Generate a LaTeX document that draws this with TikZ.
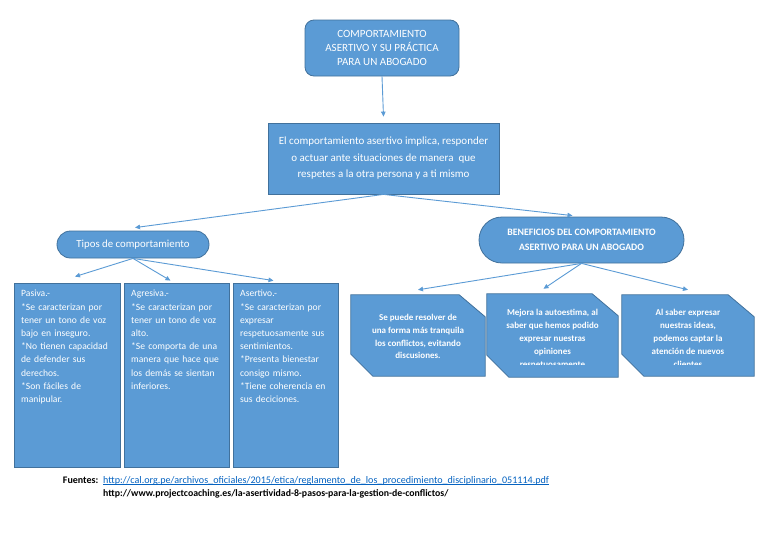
\documentclass[tikz,border=0pt]{standalone}
\usepackage{fontspec}
\setmainfont{Carlito}
\usetikzlibrary{shapes.misc,arrows.meta,calc}
\definecolor{fillb}{HTML}{5B9BD5}
\definecolor{edgeb}{HTML}{41719C}
\definecolor{linkb}{HTML}{0563C1}
\begin{document}
\begin{tikzpicture}[x=1pt,y=-1pt,
  box/.style={draw=edgeb, fill=fillb, line width=0.8pt, text=white, inner sep=0pt},
  boxline/.style={draw=edgeb, fill=fillb, line width=0.8pt},
  conn/.style={draw=fillb, line width=0.9pt, -{Triangle[length=5pt,width=4.5pt]}},
  typetext/.style={text=white, inner sep=0pt, anchor=north west, text width=98pt, align=left, font=\fontsize{9.6}{13.2}\selectfont},
  bentext/.style={text=white, inner sep=0pt, align=center, font=\bfseries\fontsize{9}{12.9}\selectfont}]
\useasboundingbox (0,0) rectangle (768,544);
\fill[white] (0,0) rectangle (768,544);

% top
\node[box, rounded corners=9pt, minimum width=154pt, minimum height=56pt, align=center,
      font=\fontsize{11}{14}\selectfont] (title) at (382,48)
  {COMPORTAMIENTO\\ASERTIVO Y SU PRÁCTICA\\PARA UN ABOGADO};
\node[box, minimum width=231pt, minimum height=71pt, align=center,
      font=\fontsize{11}{16.5}\selectfont] (def) at (383.5,158.5)
  {El comportamiento asertivo implica, responder\\o actuar ante situaciones de manera\ \ que\\respetes a la otra persona y a ti mismo};

\node[box, rounded rectangle, minimum width=152pt, minimum height=27pt,
      font=\fontsize{10.8}{13}\selectfont] (tipos) at (133,244.5) {Tipos de comportamiento};
\node[box, rounded rectangle, minimum width=205pt, minimum height=46pt, align=center,
      font=\bfseries\fontsize{9.8}{14.5}\selectfont] (benef) at (581.5,240)
  {BENEFICIOS DEL COMPORTAMIENTO\\ASERTIVO PARA UN ABOGADO};

% type boxes
\node[box, minimum width=106pt, minimum height=184pt] (pasiva) at (67,375) {};
\node[box, minimum width=105pt, minimum height=184pt] (agresiva) at (176.5,375) {};
\node[box, minimum width=105pt, minimum height=184pt] (asertivo) at (285.5,375) {};
\node[typetext] (tpas) at (21,290) {Pasiva.-\\{}*Se caracterizan por\\tener un tono de voz\\bajo en inseguro.\\{}*No tienen capacidad\\de defender sus\\derechos.\\{}*Son fáciles de\\manipular.};
\node[typetext] (tagr) at (131,290) {Agresiva.-\\{}*Se caracterizan por\\tener un tono de voz\\alto.\\{}*Se comporta de una\\manera que hace que\\los demás se sientan\\inferiores.};
\node[typetext] (tase) at (240,290) {Asertivo.-\\{}*Se caracterizan por\\expresar\\respetuosamente sus\\sentimientos.\\{}*Presenta bienestar\\consigo mismo.\\{}*Tiene coherencia en\\sus deciciones.};

% benefit boxes (snipped corners)
\node[minimum width=134pt, minimum height=81pt, inner sep=0pt] (b1) at (418,335.5) {};
\node[minimum width=131pt, minimum height=83pt, inner sep=0pt] (b2) at (552.5,335.5) {};
\node[minimum width=132pt, minimum height=81pt, inner sep=0pt] (b3) at (688,335.5) {};
\foreach \b in {b1,b2,b3}{
  \draw[boxline] (\b.north west) -- ([xshift=-26pt]\b.north east) -- ([yshift=-22pt]\b.north east)
    -- (\b.south east) -- ([xshift=22pt]\b.south west) -- ([yshift=22pt]\b.south west) -- cycle;
}
\node[bentext] (t1) at (418,336.5) {Se puede resolver de\\una forma más tranquila\\los conflictos, evitando\\discusiones.};
\begin{scope}
  \clip (b2.north west) rectangle ([yshift=12.5pt]b2.south east);
  \node[bentext, anchor=north] (t2) at (552.5,309) {Mejora la autoestima, al\\saber que hemos podido\\expresar nuestras\\opiniones\\respetuosamente};
\end{scope}
\begin{scope}
  \clip (b3.north west) rectangle ([yshift=11.5pt]b3.south east);
  \node[bentext, anchor=north] (t3) at (688,309) {Al saber expresar\\nuestras ideas,\\podemos captar la\\atención de nuevos\\clientes};
\end{scope}

% connectors
\draw[conn] (title.south) -- ([yshift=6pt]def.north);
\draw[conn] (def.south) -- ([xshift=2pt,yshift=3pt]tipos.north);
\draw[conn] (def.south) -- ([xshift=-9pt,yshift=1pt]benef.north);
\draw[conn] (tipos.south) -- ([xshift=8pt,yshift=6pt]pasiva.north);
\draw[conn] (tipos.south) -- ([xshift=-6pt,yshift=2pt]agresiva.north);
\draw[conn] (tipos.south) -- ([xshift=-12pt,yshift=2pt]asertivo.north);
\draw[conn] (benef.south) -- ([yshift=5pt]b1.north);
\draw[conn] (benef.south) -- ([xshift=-9pt,yshift=5pt]b2.north);
\draw[conn] (benef.south) -- ([yshift=5pt]b3.north);

% sources
\node[anchor=base east, inner sep=0pt, font=\bfseries\fontsize{10}{11}\selectfont] (fu) at (98.5,483) {Fuentes:};
\node[anchor=base west, inner sep=0pt, text=linkb, font=\fontsize{10.1}{11}\selectfont] (u1) at (103,483) {http://cal.org.pe/archivos\_oficiales/2015/etica/reglamento\_de\_los\_procedimiento\_disciplinario\_051114.pdf};
\draw[linkb, line width=0.6pt] ([yshift=-1.5pt]u1.base west) -- ([yshift=-1.5pt]u1.base east);
\node[anchor=base west, inner sep=0pt, font=\bfseries\fontsize{9.8}{11}\selectfont] (u2) at (103,496) {http://www.projectcoaching.es/la-asertividad-8-pasos-para-la-gestion-de-conflictos/};
\end{tikzpicture}
\end{document}
